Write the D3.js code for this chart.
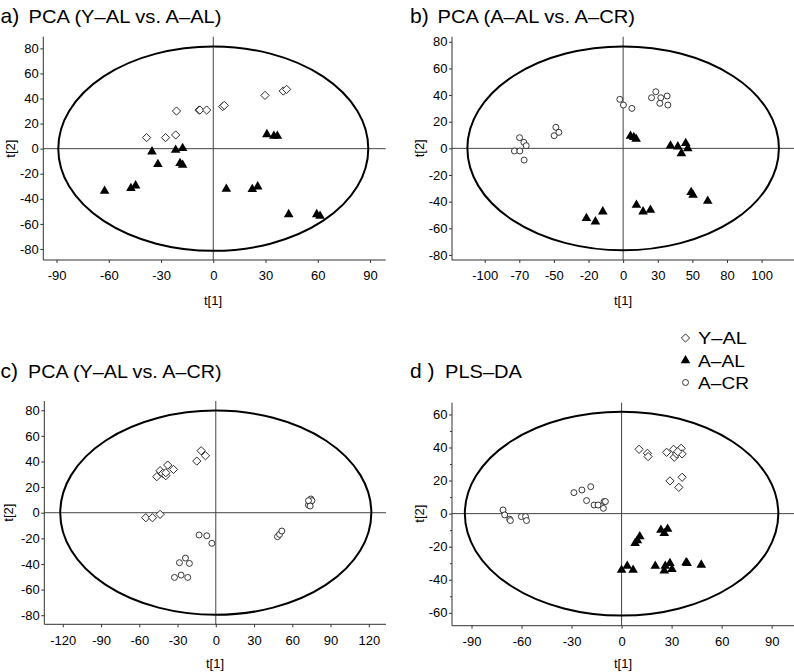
<!DOCTYPE html>
<html><head><meta charset="utf-8">
<script src="https://cdn.jsdelivr.net/npm/d3@7"></script>
<style>body{margin:0;background:#fff}svg{display:block}text{font-family:"Liberation Sans",Arial,Helvetica,sans-serif}</style>
</head><body><svg id="c" width="794" height="672"></svg>
<script>
// ---------- DATA ----------
const titlePrefix = ["a)", "b)", "c)", "d )"];
const titleText = ["PCA (Y\u2013AL vs. A\u2013AL)", "PCA (A\u2013AL vs. A\u2013CR)", "PCA (Y\u2013AL vs. A\u2013CR)", "PLS\u2013DA"];
const groupNames = ["Y\u2013AL", "A\u2013AL", "A\u2013CR"];
const xLabel = "t[1]", yLabel = "t[2]";

const ticksXa = [-90,-60,-30,0,30,60,90];
const ticksYa = [-80,-60,-40,-20,0,20,40,60,80];
const ticksXb = [-100,-75,-50,-25,0,25,50,75,100];
const tickLabelsXb = ["-100","-70","-50","-20","0","30","50","80","100"];
const ticksYb = [-80,-60,-40,-20,0,20,40,60,80];
const ticksXc = [-120,-90,-60,-30,0,30,60,90,120];
const ticksYc = [-80,-60,-40,-20,0,20,40,60,80];
const ticksXd = [-90,-60,-30,0,30,60,90];
const ticksYd = [-60,-40,-20,0,20,40,60];
const minorYd = [-50,-30,-10,10,30,50];

// Hotelling ellipse semi-axes (t[1], t[2])
const ellipseA = [89, 81.5], ellipseB = [112.5, 76.5], ellipseC = [122, 79.7], ellipseD = [94, 61.7];

const a_YAL = [[-38.3,8.8],[-27.4,8.8],[-21.6,10.9],[-21.1,30],[-8.2,30.8],[-7.7,30.8],[-3.8,30.8],[5.4,33.5],[6.3,34.5],[29.7,42.5],[40.2,46],[42.1,47.3]];
const a_AAL = [[-62.4,-33.8],[-47.3,-31.6],[-44.6,-29.5],[-35.2,-2.4],[-31.8,-12.5],[-21.6,-1.1],[-17.6,0.3],[-19.1,-11.7],[-17.6,-13],[7.5,-32.2],[22.4,-32.4],[25.5,-30.3],[30.8,11.4],[34.8,10.1],[36.8,10.1],[43.3,-52.4],[59.4,-52.4],[61.3,-53.7]];

const b_AAL = [[-26.5,-52.5],[-20,-55],[-14.7,-47.5],[5.3,9.3],[7.7,8.3],[9.4,7],[9.6,-42.5],[14.4,-47.5],[19.7,-46.3],[34.2,2],[39.5,1.3],[42.1,-3.8],[45.2,3.8],[46.7,0],[49.1,-33],[50.5,-35],[61.1,-39.5]];
const b_ACR = [[-78.5,-2],[-74.6,-2],[-74.8,8],[-71.7,4.5],[-70,2],[-71.5,-8.8],[-49.8,9.5],[-48.6,15.8],[-46.4,12],[-2.4,36.8],[0.2,32.5],[6.3,30],[20.5,38],[23.6,42.5],[27.2,38],[26.5,33.8],[31.8,39.3],[32.3,32.5]];

const c_YAL = [[-54.9,-3.9],[-49.7,-3.9],[-43.7,-1.3],[-46.3,28.1],[-43.7,32.8],[-41.6,30.7],[-39.2,28.9],[-37.7,37.2],[-39.2,31.2],[-33.2,33.8],[-14.9,40.3],[-11.5,48.4],[-8.1,44.5]];
const c_ACR = [[-13.1,-17.4],[-7.1,-18],[-3.1,-23.9],[-28.5,-39],[-23.8,-35.4],[-20.7,-39.6],[-32.4,-50.5],[-27.2,-48.7],[-22,-50.5],[48.4,-18.7],[50,-16.9],[51.8,-14.3],[72.7,6],[74,7.8],[74.6,10.7],[75.4,9.4],[72.7,9.4],[74,5.2]];

const d_YAL = [[10.5,38.9],[15.5,36.5],[15.9,34.5],[27,37.1],[31.2,38.9],[31.6,34.1],[33,36.1],[35.7,39.5],[36.3,36.1],[33.7,37.5],[29,19.8],[34.3,15.9],[36.3,22]];
const d_AAL = [[0,-34.1],[3.4,-31.7],[6.9,-34.1],[8.1,-17.9],[9.5,-16.3],[10.9,-13.9],[20.2,-31.7],[23.6,-9.9],[25.6,-11.9],[27.6,-9.3],[26.2,-31.7],[25.6,-34.5],[29,-30],[30.2,-33.7],[38.7,-29.6],[39.3,-30],[47.8,-31]];
const d_ACR = [[-71.1,2.2],[-70.1,-0.8],[-67.1,-3.4],[-66.7,-4.2],[-60.1,-1.8],[-57.6,-1.8],[-57,-4.2],[-28.6,12.7],[-23.8,14.3],[-18.5,16.3],[-21,7.9],[-16.5,5.2],[-14.1,5.2],[-10.9,3.2],[-10.5,7.3],[-9.7,7.3]];

// ---------- LAYOUT ----------
const panels = [
  {i:0, tx:0.5, rx:28.5, rw:193, ty:22.5, xd:[-97.6,99.0],  yd:[-88.8,89.3], xr:[43.3,385.7], yr:[260,36.7],
   xt:ticksXa, yt:ticksYa, ell:ellipseA, sets:[[a_YAL,0],[a_AAL,1]], xlab:[213,305], ylab:[10,148.7]},
  {i:1, tx:410, rx:437.5, rw:197.5, ty:22.5, xd:[-123.6,123.4], yd:[-83.8,83.8], xr:[452,794], yr:[260,36.7],
   xt:ticksXb, xtl:tickLabelsXb, yt:ticksYb, ell:ellipseB, sets:[[b_AAL,1],[b_ACR,2]], xlab:[623,305], ylab:[419,148.3]},
  {i:2, tx:0.5, rx:28, rw:193.5, ty:378, xd:[-134.5,133.5], yd:[-87.1,87.2], xr:[44.3,386], yr:[624.3,401],
   xt:ticksXc, yt:ticksYc, ell:ellipseC, sets:[[c_YAL,0],[c_ACR,2]], xlab:[215,668], ylab:[8,512.7]},
  {i:3, tx:410, rx:445, rw:77, ty:378, xd:[-101.7,103.4], yd:[-67.8,67.1], xr:[452,794], yr:[625.7,402.7],
   xt:ticksXd, yt:ticksYd, ymin:minorYd, ell:ellipseD, sets:[[d_ACR,2],[d_YAL,0],[d_AAL,1]], xlab:[623,668], ylab:[419,513.7]}
];

const svg = d3.select("#c");
const axisColor = "#333";
const fmt = d => String(d); // hyphen-minus like the reference

function marker(g, type, x, y) {
  if (type === 0) {
    g.append("path").attr("d", d3.symbol(d3.symbolSquare, 34)())
      .attr("transform", `translate(${x},${y}) rotate(45)`)
      .attr("fill", "#fff").attr("stroke", "#222").attr("stroke-width", 0.9);
  } else if (type === 1) {
    g.append("path").attr("d", d3.symbol(d3.symbolTriangle, 40)())
      .attr("transform", `translate(${x},${y})`).attr("fill", "#000");
  } else {
    g.append("path").attr("d", d3.symbol(d3.symbolCircle, 28)())
      .attr("transform", `translate(${x},${y})`)
      .attr("fill", "#fff").attr("stroke", "#222").attr("stroke-width", 0.9);
  }
}

panels.forEach(p => {
  const x = d3.scaleLinear().domain(p.xd).range(p.xr);
  const y = d3.scaleLinear().domain(p.yd).range(p.yr);
  const g = svg.append("g");

  g.append("text").attr("x", p.tx).attr("y", p.ty).attr("font-size", 21).attr("fill", "#000").text(titlePrefix[p.i]);
  g.append("text").attr("x", p.rx).attr("y", p.ty).attr("font-size", 18).attr("fill", "#000")
    .attr("textLength", p.rw).attr("lengthAdjust", "spacingAndGlyphs").text(titleText[p.i]);

  // crosshair
  g.append("line").attr("x1", x(0)).attr("x2", x(0)).attr("y1", p.yr[0]).attr("y2", p.yr[1])
    .attr("stroke", "#444").attr("stroke-width", 1);
  g.append("line").attr("x1", p.xr[0]).attr("x2", p.xr[1]).attr("y1", y(0)).attr("y2", y(0))
    .attr("stroke", "#444").attr("stroke-width", 1);

  // ellipse
  g.append("ellipse").attr("cx", x(0)).attr("cy", y(0))
    .attr("rx", x(p.ell[0]) - x(0)).attr("ry", y(0) - y(p.ell[1]))
    .attr("fill", "none").attr("stroke", "#000").attr("stroke-width", 2);

  // axes
  const xa = d3.axisBottom(x).tickValues(p.xt).tickSize(3).tickPadding(8)
    .tickFormat((d, i) => p.xtl ? p.xtl[i] : fmt(d));
  const gx = g.append("g").attr("transform", `translate(0,${p.yr[0]})`).call(xa);
  const ya = d3.axisLeft(y).tickValues(p.yt).tickSize(3).tickPadding(1.5).tickFormat(fmt);
  const gy = g.append("g").attr("transform", `translate(${p.xr[0]},0)`).call(ya);
  [gx, gy].forEach(a => {
    a.select(".domain").remove();
    a.selectAll(".tick line").attr("stroke", axisColor);
    a.selectAll("text").attr("font-size", 13).attr("fill", "#000").attr("font-family", '"Liberation Sans",Arial,sans-serif');
  });
  g.append("line").attr("x1", p.xr[0]).attr("x2", p.xr[1]).attr("y1", p.yr[0]).attr("y2", p.yr[0]).attr("stroke", axisColor);
  g.append("line").attr("x1", p.xr[0]).attr("x2", p.xr[0]).attr("y1", p.yr[0]).attr("y2", p.yr[1]).attr("stroke", axisColor);
  if (p.ymin) {
    g.append("g").attr("transform", `translate(${p.xr[0]},0)`)
      .call(d3.axisLeft(y).tickValues(p.ymin).tickSize(2).tickFormat(""))
      .call(a => { a.select(".domain").remove(); a.selectAll("line").attr("stroke", axisColor); });
  }

  g.append("text").attr("x", p.xlab[0]).attr("y", p.xlab[1]).attr("text-anchor", "middle")
    .attr("font-size", 13).text(xLabel);
  g.append("text").attr("transform", `translate(${p.ylab[0]},${p.ylab[1]}) rotate(-90)`)
    .attr("text-anchor", "middle").attr("dy", "0.35em").attr("font-size", 13).text(yLabel);

  const pg = g.append("g");
  p.sets.forEach(([arr, type]) => arr.forEach(d => marker(pg, type, x(d[0]), y(d[1]))));
});

// legend
const leg = svg.append("g");
const legY = [338, 360.5, 382.5];
const legW = [49, 47, 51];
groupNames.forEach((n, i) => {
  marker(leg, i, 685.5, legY[i]);
  leg.append("text").attr("x", 698).attr("y", legY[i]).attr("dy", "0.36em")
    .attr("font-size", 17).attr("textLength", legW[i]).attr("lengthAdjust", "spacingAndGlyphs").text(n);
});
</script></body></html>
